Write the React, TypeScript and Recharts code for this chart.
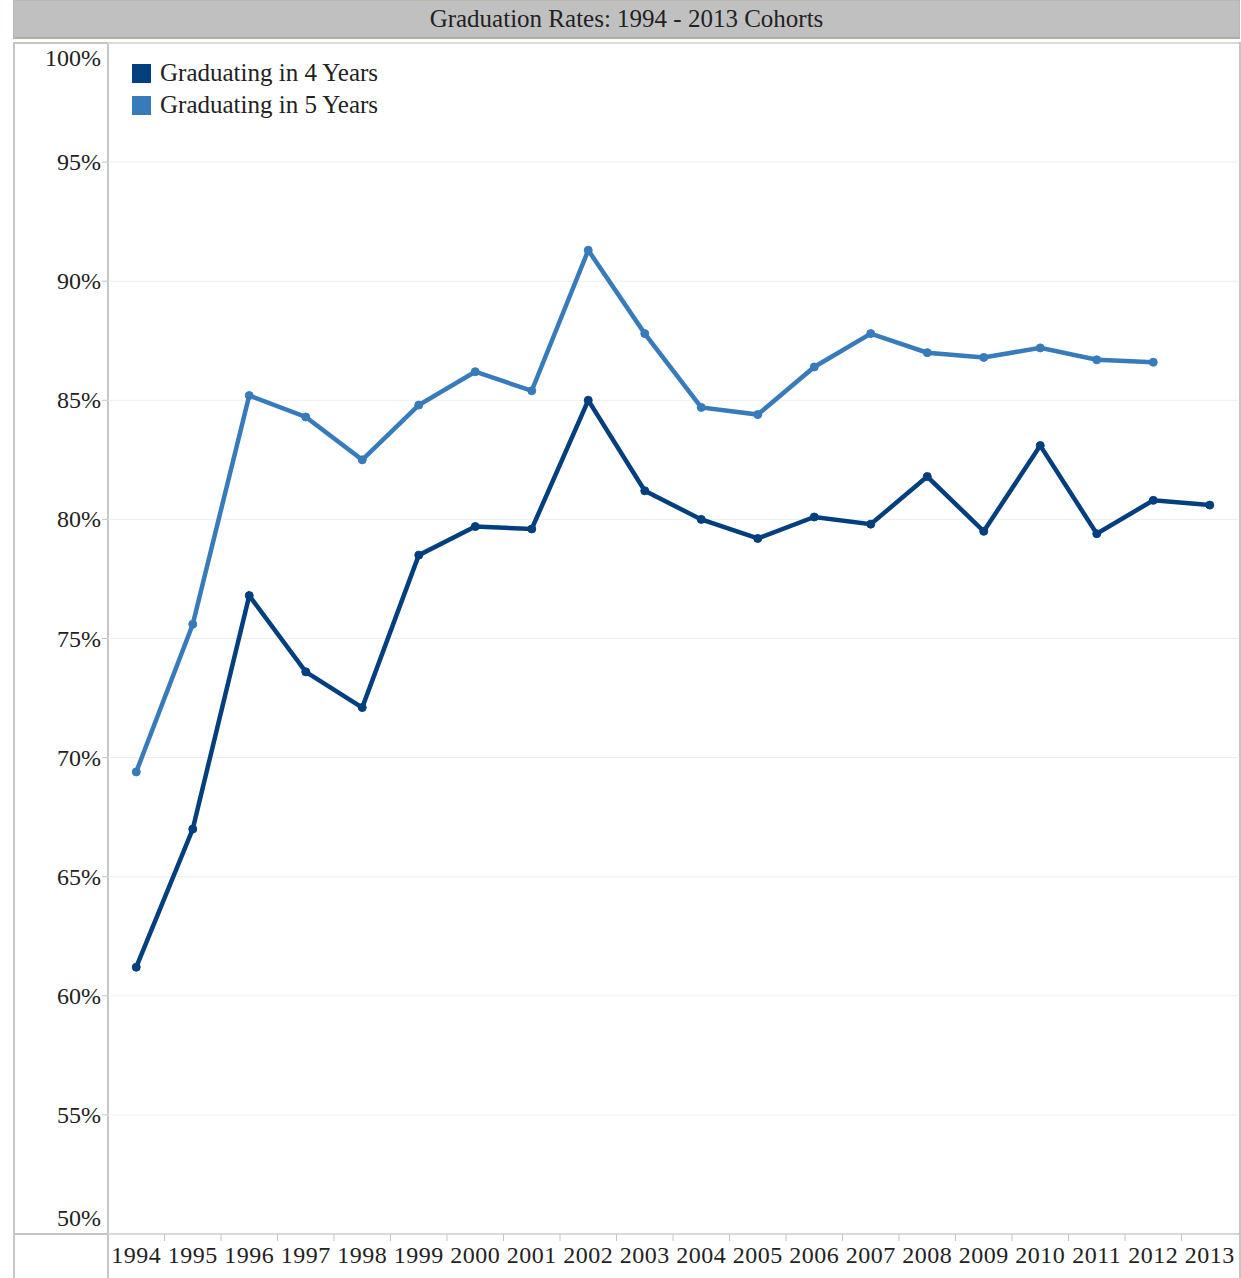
import React from "react";
import {
  LineChart,
  Line,
  XAxis,
  YAxis,
  CartesianGrid,
} from "recharts";

// cohort years on the x axis
const years = [
  "1994", "1995", "1996", "1997", "1998", "1999", "2000", "2001", "2002", "2003",
  "2004", "2005", "2006", "2007", "2008", "2009", "2010", "2011", "2012", "2013",
];

// graduation rates (%)
const fourYear = [
  61.2, 67.0, 76.8, 73.6, 72.1, 78.5, 79.7, 79.6, 85.0, 81.2,
  80.0, 79.2, 80.1, 79.8, 81.8, 79.5, 83.1, 79.4, 80.8, 80.6,
];
const fiveYear = [
  69.4, 75.6, 85.2, 84.3, 82.5, 84.8, 86.2, 85.4, 91.3, 87.8,
  84.7, 84.4, 86.4, 87.8, 87.0, 86.8, 87.2, 86.7, 86.6, null,
];

const yTicks = [50, 55, 60, 65, 70, 75, 80, 85, 90, 95, 100];

const DARK = "#033f7f";
const LIGHT = "#377bbb";
const FONT = '"Liberation Serif", "DejaVu Serif", serif';
const BORDER = "#c6c6c6";

const data = years.map((y, i) => ({
  year: y,
  four: fourYear[i],
  five: fiveYear[i],
}));

const HALF_BAND = 28.25;

function XTick(props: any) {
  const { x, y, payload } = props;
  return (
    <g>
      <line x1={x - HALF_BAND} y1={y} x2={x - HALF_BAND} y2={y + 7} stroke={BORDER} />
      <text
        x={x}
        y={y + 29}
        textAnchor="middle"
        style={{ fontFamily: FONT, fontSize: 24, letterSpacing: 0.5 }}
        fill="#222"
      >
        {payload.value}
      </text>
    </g>
  );
}

function YTick(props: any) {
  const { x, y, payload } = props;
  // top and bottom labels are kept inside the plot box
  let dy = 8;
  if (payload.value === 100) dy = 23;
  if (payload.value === 50) dy = -8;
  return (
    <g>
      <line x1={x - 6} y1={y} x2={x} y2={y} stroke={BORDER} />
      <text
        x={x - 7}
        y={y + dy}
        textAnchor="end"
        style={{ fontFamily: FONT, fontSize: 24 }}
        fill="#222"
      >
        {payload.value + "%"}
      </text>
    </g>
  );
}

function LegendBox() {
  const items = [
    { label: "Graduating in 4 Years", color: DARK },
    { label: "Graduating in 5 Years", color: LIGHT },
  ];
  return (
    <div
      style={{
        position: "absolute",
        left: 132,
        top: 57,
        fontFamily: FONT,
        fontSize: 25,
        color: "#222",
      }}
    >
      {items.map((it) => (
        <div
          key={it.label}
          style={{ display: "flex", alignItems: "center", height: 32 }}
        >
          <span
            style={{
              display: "inline-block",
              width: 19,
              height: 19,
              background: it.color,
              marginRight: 9,
            }}
          />
          {it.label}
        </div>
      ))}
    </div>
  );
}

export default function App() {
  return (
    <div
      style={{
        position: "absolute",
        left: 0,
        top: 0,
        width: 1241,
        height: 1278,
        background: "#fff",
        overflow: "hidden",
      }}
    >
      {/* title bar */}
      <div
        style={{
          position: "absolute",
          left: 13,
          top: 0,
          width: 1225,
          height: 36,
          background: "#c0c0c0",
          border: "1px solid #bdb8ad",
          borderBottom: "2px solid #b3ad9f",
          fontFamily: FONT,
          fontSize: 25,
          lineHeight: "36px",
          textAlign: "center",
          color: "#222",
        }}
      >
        Graduation Rates: 1994 - 2013 Cohorts
      </div>

      {/* outer frame of the chart pane */}
      <div
        style={{
          position: "absolute",
          left: 13,
          top: 42,
          width: 1224,
          height: 1240,
          borderLeft: `2px solid ${BORDER}`,
          borderTop: `2px solid ${BORDER}`,
          borderRight: `2px solid ${BORDER}`,
        }}
      />
      <div
        style={{
          position: "absolute",
          left: 107,
          top: 42,
          width: 2,
          height: 1240,
          background: BORDER,
        }}
      />
      <div
        style={{
          position: "absolute",
          left: 13,
          top: 1233,
          width: 1226,
          height: 2,
          background: BORDER,
        }}
      />

      <div style={{ position: "absolute", left: 13, top: 42 }}>
        <LineChart
          width={1226}
          height={1236}
          data={data}
          margin={{ top: 1, right: 1, bottom: 0, left: 0 }}
        >
          <CartesianGrid
            vertical={false}
            horizontal={true}
            stroke="#eeeeee"
            strokeWidth={1}
          />
          <XAxis
            dataKey="year"
            height={44}
            padding={{ left: HALF_BAND, right: HALF_BAND }}
            tickLine={false}
            axisLine={false}
            tickSize={0}
            tickMargin={0}
            interval={0}
            tick={<XTick />}
          />
          <YAxis
            width={95}
            domain={[50, 100]}
            ticks={yTicks}
            type="number"
            allowDataOverflow
            tickLine={false}
            axisLine={false}
            tickSize={0}
            tickMargin={0}
            interval={0}
            tick={<YTick />}
          />
          <Line
            dataKey="four"
            name="Graduating in 4 Years"
            stroke={DARK}
            strokeWidth={4.5}
            dot={{ r: 4, fill: DARK, stroke: DARK, strokeWidth: 1 }}
            isAnimationActive={false}
          />
          <Line
            dataKey="five"
            name="Graduating in 5 Years"
            stroke={LIGHT}
            strokeWidth={4.5}
            dot={{ r: 4, fill: LIGHT, stroke: LIGHT, strokeWidth: 1 }}
            isAnimationActive={false}
          />
        </LineChart>
      </div>
      <LegendBox />
    </div>
  );
}
